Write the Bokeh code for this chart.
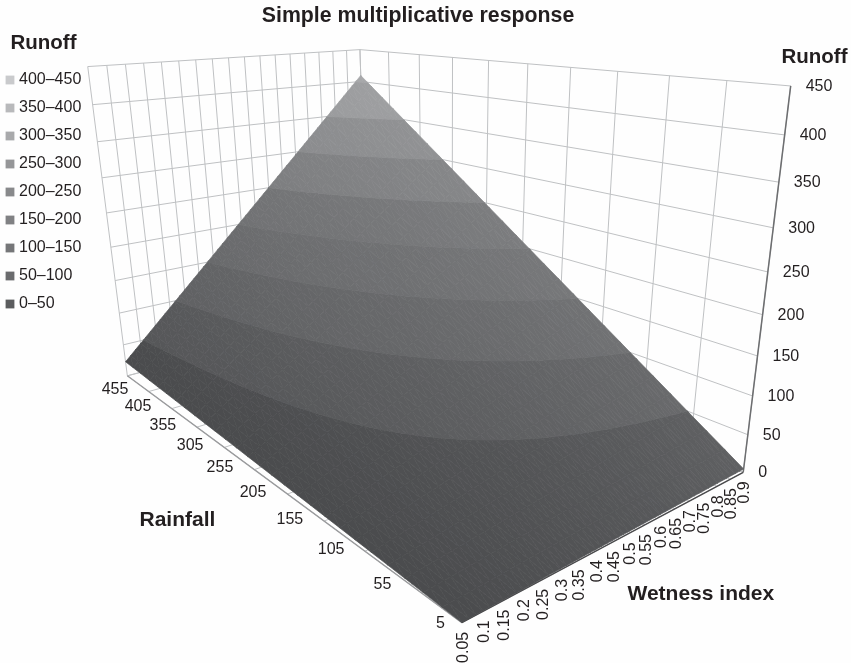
import numpy as np
from bokeh.plotting import figure
from bokeh.models import Range1d, Legend, LegendItem, ColumnDataSource
from bokeh.core.properties import value
from bokeh.embed import file_html
from bokeh.resources import INLINE

TITLE = "Simple multiplicative response"
wetness = [0.05, 0.1, 0.15, 0.2, 0.25, 0.3, 0.35, 0.4, 0.45, 0.5, 0.55, 0.6, 0.65, 0.7, 0.75, 0.8, 0.85, 0.9]
wetness_labels = ["0.05", "0.1", "0.15", "0.2", "0.25", "0.3", "0.35", "0.4", "0.45", "0.5", "0.55", "0.6",
                  "0.65", "0.7", "0.75", "0.8", "0.85", "0.9"]
rainfall = [5, 55, 105, 155, 205, 255, 305, 355, 405, 455]
runoff_5 = [0.25, 0.5, 0.75, 1, 1.25, 1.5, 1.75, 2, 2.25, 2.5, 2.75, 3, 3.25, 3.5, 3.75, 4, 4.25, 4.5]
runoff_55 = [2.75, 5.5, 8.25, 11, 13.75, 16.5, 19.25, 22, 24.75, 27.5, 30.25, 33, 35.75, 38.5, 41.25, 44, 46.75, 49.5]
runoff_105 = [5.25, 10.5, 15.75, 21, 26.25, 31.5, 36.75, 42, 47.25, 52.5, 57.75, 63, 68.25, 73.5, 78.75, 84, 89.25, 94.5]
runoff_155 = [7.75, 15.5, 23.25, 31, 38.75, 46.5, 54.25, 62, 69.75, 77.5, 85.25, 93, 100.75, 108.5, 116.25, 124, 131.75, 139.5]
runoff_205 = [10.25, 20.5, 30.75, 41, 51.25, 61.5, 71.75, 82, 92.25, 102.5, 112.75, 123, 133.25, 143.5, 153.75, 164, 174.25, 184.5]
runoff_255 = [12.75, 25.5, 38.25, 51, 63.75, 76.5, 89.25, 102, 114.75, 127.5, 140.25, 153, 165.75, 178.5, 191.25, 204, 216.75, 229.5]
runoff_305 = [15.25, 30.5, 45.75, 61, 76.25, 91.5, 106.75, 122, 137.25, 152.5, 167.75, 183, 198.25, 213.5, 228.75, 244, 259.25, 274.5]
runoff_355 = [17.75, 35.5, 53.25, 71, 88.75, 106.5, 124.25, 142, 159.75, 177.5, 195.25, 213, 230.75, 248.5, 266.25, 284, 301.75, 319.5]
runoff_405 = [20.25, 40.5, 60.75, 81, 101.25, 121.5, 141.75, 162, 182.25, 202.5, 222.75, 243, 263.25, 283.5, 303.75, 324, 344.25, 364.5]
runoff_455 = [22.75, 45.5, 68.25, 91, 113.75, 136.5, 159.25, 182, 204.75, 227.5, 250.25, 273, 295.75, 318.5, 341.25, 364, 386.75, 409.5]
runoff_rows = [runoff_5, runoff_55, runoff_105, runoff_155, runoff_205, runoff_255, runoff_305, runoff_355, runoff_405, runoff_455]

runoff_ticks = [0, 50, 100, 150, 200, 250, 300, 350, 400, 450]
rain_wall_lines = [5, 50, 95, 140, 185, 230, 275, 320, 365, 410, 455]
band_labels = ["0–50", "50–100", "100–150", "150–200", "200–250", "250–300", "300–350", "350–400", "400–450"]
band_legend_colors = ["#5b5c5e", "#6a6b6d", "#757678", "#808183", "#88898b", "#959698", "#a8a9ab", "#b8b9bb", "#c9cacc"]
band_surface_grey = [84, 94, 102, 108, 113, 123, 134, 147, 156]

# Camera calibration of the 3-D box: (rainfall, wetness, runoff) -> page pixel
cal_world = [(5, .05, 0), (5, .9, 0), (455, .05, 0), (455, .05, 450), (455, .9, 450), (5, .9, 450), (455, .9, 409.5),
             (455, .9, 409.5), (455, .9, 409.5), (455, .05, 22.75), (5, .9, 250), (455, .05, 250), (5, .9, 100),
             (455, .05, 100), (5, .9, 350), (455, .05, 350)]
cal_page = [(461, 622), (743, 472), (127, 377), (87, 66), (360, 55), (791, 85), (360, 73),
            (360, 73), (360, 73), (125, 360), (767, 272), (106, 212), (752, 395), (119, 313), (778, 182), (97, 141)]


def fit_camera(world, page):
    rows = []
    for (r, w, z), (u, v) in zip(world, page):
        X = [r / 455, w / 0.9, z / 450, 1]
        u, v = u / 800, v / 800
        rows.append(X + [0, 0, 0, 0] + [-u * c for c in X])
        rows.append([0, 0, 0, 0] + X + [-v * c for c in X])
    return np.linalg.svd(np.array(rows))[2][-1].reshape(3, 4)


CAM = fit_camera(cal_world, cal_page)


def proj(r, w, z):
    r, w, z = np.asarray(r, float), np.asarray(w, float), np.asarray(z, float)
    X = np.stack([r / 455, w / 0.9, z / 450, np.ones_like(r)])
    h = CAM @ X
    return h[0] / h[2] * 800, h[1] / h[2] * 800


def segs(a, b):
    x0, y0 = proj(*a)
    x1, y1 = proj(*b)
    return [float(x0), float(x1)], [float(y0), float(y1)]


p = figure(width=851, height=663, x_range=Range1d(0, 851), y_range=Range1d(663, 0), output_backend="svg",
           toolbar_location=None, x_axis_type=None, y_axis_type=None, min_border=0,
           background_fill_color="#fefefe", border_fill_color="#fefefe", outline_line_color=None,
           styles={"position": "fixed", "left": "0px", "top": "0px"})
p.grid.visible = False

R0, R1, W0, W1, Ztop = rainfall[0], rainfall[-1], wetness[0], wetness[-1], runoff_ticks[-1]
gx, gy = [], []


def add(a, b):
    x, y = segs(a, b)
    gx.append(x)
    gy.append(y)


for z in runoff_ticks:
    add((R1, W0, z), (R1, W1, z))
    add((R1, W1, z), (R0, W1, z))
for w in wetness:
    add((R1, w, 0), (R1, w, Ztop))
    add((R0, w, 0), (R1, w, 0))
for r in rain_wall_lines:
    add((r, W1, 0), (r, W1, Ztop))
    add((r, W0, 0), (r, W1, 0))
p.multi_line(gx, gy, line_color="#bfc1c3", line_width=1)

x, y = segs((R0, W0, 0), (R1, W0, 0))
p.line(x, y, line_color="#9a9b9d", line_width=1.4)
x, y = segs((R0, W0, 0), (R0, W1, 0))
p.line(x, y, line_color="#4a4a4c", line_width=1.4)
x, y = segs((R0, W1, 0), (R0, W1, Ztop))
p.line(x, y, line_color="#6d6e70", line_width=1.5)


# Surface: cut each cell of the table into the runoff bands
def clip(poly, lim, keep_above):
    out = []
    n = len(poly)
    for i in range(n):
        a, b = poly[i], poly[(i + 1) % n]
        ina = a[2] >= lim if keep_above else a[2] <= lim
        inb = b[2] >= lim if keep_above else b[2] <= lim
        if ina:
            out.append(a)
        if ina != inb:
            t = (lim - a[2]) / (b[2] - a[2])
            out.append(tuple(a[k] + t * (b[k] - a[k]) for k in range(3)))
    return out


SUB = 3
xs, ys, cols = [], [], []
Z = np.array(runoff_rows, float)
for i in range(len(rainfall) - 1):
    for j in range(len(wetness) - 1):
        r0, r1 = rainfall[i], rainfall[i + 1]
        w0, w1 = wetness[j], wetness[j + 1]

        def corner(a, b):
            zz = ((1 - a) * (1 - b) * Z[i, j] + a * (1 - b) * Z[i + 1, j]
                  + (1 - a) * b * Z[i, j + 1] + a * b * Z[i + 1, j + 1])
            return (r0 + a * (r1 - r0), w0 + b * (w1 - w0), zz)

        for a in range(SUB):
            for b in range(SUB):
                c00 = corner(a / SUB, b / SUB)
                c10 = corner((a + 1) / SUB, b / SUB)
                c11 = corner((a + 1) / SUB, (b + 1) / SUB)
                c01 = corner(a / SUB, (b + 1) / SUB)
                for tri in ([c00, c10, c11], [c00, c11, c01]):
                    for k in range(len(band_labels)):
                        lo, hi = k * 50, (k + 1) * 50
                        poly = clip(clip(tri, lo, True), hi, False)
                        if len(poly) < 3:
                            continue
                        arr = np.array(poly)
                        px, py = proj(arr[:, 0], arr[:, 1], arr[:, 2])
                        g = int(round(band_surface_grey[k] + 24 * (arr[:, 1].mean() - 0.45)))
                        xs.append(px.tolist())
                        ys.append(py.tolist())
                        cols.append("#%02x%02x%02x" % (g, g + 1, min(255, g + 3)))

src = ColumnDataSource(dict(xs=xs, ys=ys, c=cols))
p.patches("xs", "ys", source=src, fill_color="c", line_color="c", line_width=0.7)

# Axis tick labels
FONT = value("Liberation Sans")
TICK = "16px"
zx, zy = proj([R0] * 10, [W1] * 10, runoff_ticks)
p.text(zx, zy, text=[str(z) for z in runoff_ticks], x_offset=15, y_offset=-1, text_font=FONT, text_font_size=TICK,
       text_align="left", text_baseline="middle", text_color="#231f20")

wx, wy = proj([R0] * 18, wetness, [0] * 18)
p.text(wx, wy, text=wetness_labels, y_offset=9, angle=np.pi / 2, text_font=FONT, text_font_size=TICK,
       text_align="right", text_baseline="middle", text_color="#231f20")

rx, ry = proj(rainfall, [W0] * 10, [0] * 10)
rfrac = (np.array(rainfall) - R0) / (R1 - R0)
bump = 12 * rfrac * (1 - rfrac)
p.text(rx, ry, text=[str(r) for r in rainfall], x_offset=(-17 + 18 * rfrac + bump).tolist(),
       y_offset=(-1 + 13 * rfrac + bump).tolist(),
       text_font=FONT, text_font_size=TICK, text_align="right", text_baseline="middle", text_color="#231f20")

# Titles
titles = [(TITLE, 417.5, 14.5, "center", "21.3px"), ("Runoff", 10, 41, "left", "20.5px"), ("Runoff", 781, 55, "left", "20.5px"),
          ("Rainfall", 139, 518, "left", "21px"), ("Wetness index", 627, 592, "left", "21px")]
for text, tx, ty, al, fs in titles:
    p.text([tx], [ty], text=[text], text_font=FONT, text_font_size=fs, text_font_style="bold",
           text_align=al, text_baseline="middle", text_color="#231f20")

# Legend (keys sit on a point outside the visible range)
items = []
for lab, col in zip(band_labels[::-1], band_legend_colors[::-1]):
    r = p.rect([-100], [-100], width=1, height=1, fill_color=col, line_color=None)
    items.append(LegendItem(label=lab, renderers=[r]))
leg = Legend(items=items, location=(4, 350), padding=0, margin=0, spacing=8, label_standoff=4, glyph_width=11, glyph_height=11,
             label_height=20, label_text_font="Liberation Sans", label_text_font_size=TICK, label_text_color="#231f20",
             background_fill_alpha=0, border_line_color=None)
p.add_layout(leg, "center")

open("out.html", "w").write(file_html(p, INLINE))
